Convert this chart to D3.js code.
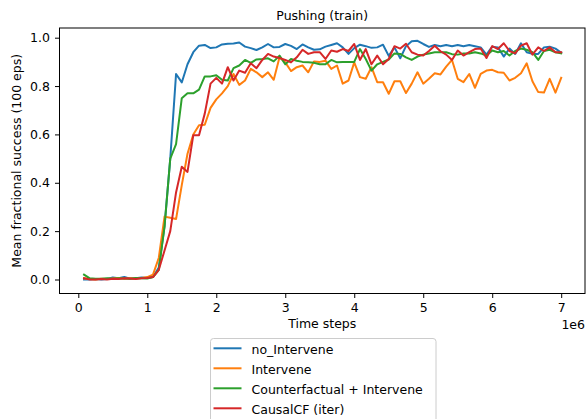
<!DOCTYPE html>
<html><head><meta charset="utf-8">
<script src="https://cdn.jsdelivr.net/npm/d3@7"></script>
<style>
body{margin:0;background:#fff}
svg{display:block}
text{font-family:"DejaVu Sans",sans-serif;fill:#000}
</style>
</head><body>
<svg id="c" width="586" height="419"></svg>
<script>
// Time steps (in units of 1e6)
const steps = [
0.083,0.167,0.25,0.333,0.417,0.5,0.583,0.667,0.75,0.833,0.917,1.0,
1.083,1.167,1.25,1.333,1.417,1.5,1.583,1.667,1.75,1.833,1.917,2.0,
2.083,2.167,2.25,2.333,2.417,2.5,2.583,2.667,2.75,2.833,2.917,3.0,
3.083,3.167,3.25,3.333,3.417,3.5,3.583,3.667,3.75,3.833,3.917,4.0,
4.083,4.167,4.25,4.333,4.417,4.5,4.583,4.667,4.75,4.833,4.917,5.0,
5.083,5.167,5.25,5.333,5.417,5.5,5.583,5.667,5.75,5.833,5.917,6.0,
6.083,6.167,6.25,6.333,6.417,6.5,6.583,6.667,6.75,6.833,6.917,7.0];

const noIntervene = [
0.0,0.0,0.002,0.0,0.002,0.008,0.005,0.01,0.003,0.005,0.008,0.006,
0.01,0.05,0.22,0.5,0.85,0.815,0.89,0.94,0.967,0.97,0.957,0.96,
0.972,0.975,0.976,0.98,0.963,0.957,0.949,0.96,0.974,0.96,0.962,0.974,
0.966,0.953,0.972,0.96,0.95,0.952,0.963,0.97,0.977,0.96,0.933,0.957,
0.971,0.965,0.958,0.96,0.971,0.925,0.96,0.915,0.965,0.985,0.987,0.974,
0.962,0.97,0.965,0.97,0.965,0.97,0.965,0.97,0.965,0.96,0.93,0.963,
0.96,0.922,0.955,0.933,0.977,0.94,0.933,0.933,0.96,0.963,0.955,0.938];

const intervene = [
0.005,0.002,0.0,0.003,0.002,0.004,0.006,0.003,0.005,0.004,0.006,0.01,
0.02,0.09,0.26,0.255,0.25,0.39,0.52,0.6,0.638,0.64,0.71,0.745,
0.77,0.8,0.85,0.805,0.823,0.871,0.857,0.837,0.857,0.826,0.919,0.898,
0.862,0.878,0.885,0.857,0.902,0.9,0.905,0.871,0.885,0.81,0.823,0.898,
0.837,0.83,0.878,0.816,0.816,0.768,0.82,0.82,0.771,0.81,0.857,0.81,
0.83,0.853,0.848,0.88,0.908,0.83,0.816,0.85,0.793,0.85,0.864,0.867,
0.857,0.855,0.823,0.834,0.853,0.894,0.82,0.775,0.773,0.83,0.773,0.834];

const counterfactualIntervene = [
0.02,0.005,0.003,0.003,0.005,0.003,0.005,0.004,0.003,0.006,0.005,0.004,
0.01,0.04,0.22,0.5,0.56,0.75,0.77,0.77,0.785,0.84,0.84,0.845,
0.826,0.823,0.874,0.885,0.908,0.896,0.91,0.912,0.915,0.902,0.926,0.89,
0.912,0.905,0.9,0.898,0.896,0.89,0.89,0.908,0.898,0.9,0.9,0.9,
0.953,0.912,0.864,0.89,0.9,0.91,0.935,0.933,0.919,0.908,0.922,0.93,
0.935,0.94,0.94,0.94,0.932,0.93,0.935,0.935,0.94,0.935,0.926,0.947,
0.94,0.945,0.926,0.945,0.955,0.95,0.94,0.908,0.945,0.95,0.94,0.935];

const causalCF = [
0.005,0.0,0.0,0.002,0.0,0.003,0.002,0.005,0.004,0.002,0.005,0.006,
0.01,0.04,0.12,0.2,0.36,0.466,0.445,0.597,0.597,0.686,0.81,0.834,
0.81,0.878,0.823,0.864,0.855,0.894,0.874,0.908,0.933,0.922,0.916,0.908,
0.898,0.919,0.95,0.933,0.94,0.94,0.912,0.947,0.942,0.953,0.945,0.974,
0.908,0.953,0.89,0.926,0.89,0.912,0.965,0.955,0.975,0.94,0.93,0.926,
0.945,0.967,0.944,0.93,0.908,0.947,0.926,0.94,0.953,0.955,0.916,0.965,
0.953,0.977,0.945,0.935,0.967,0.977,0.93,0.96,0.945,0.96,0.94,0.94];

const seriesNames = ["no_Intervene","Intervene","Counterfactual + Intervene","CausalCF (iter)"];
const seriesValues = [noIntervene, intervene, counterfactualIntervene, causalCF];
const seriesColors = ["#1f77b4","#ff7f0e","#2ca02c","#d62728"];
const xTicks = [0,1,2,3,4,5,6,7];
const yTicks = [0.0,0.2,0.4,0.6,0.8,1.0];
const titleText = "Pushing (train)";
const xLabel = "Time steps";
const yLabel = "Mean fractional success (100 eps)";
const xOffsetLabel = "1e6";

const svg = d3.select("#c");
const box = {left:59.5, right:585, top:28, bottom:293.5};
const x = d3.scaleLinear().domain([0,7]).range([78.3,561.2]);
const y = d3.scaleLinear().domain([0,1]).range([279.5,37.7]);
const fs = "12.5px";

svg.append("defs").append("clipPath").attr("id","clip")
  .append("rect").attr("x",box.left).attr("y",box.top)
  .attr("width",box.right-box.left).attr("height",box.bottom-box.top);

const line = d3.line().x((d,i)=>x(steps[i])).y(d=>y(d));
const g = svg.append("g").attr("clip-path","url(#clip)");
seriesValues.forEach((vals,si)=>{
  g.append("path").datum(vals).attr("d",line)
   .attr("fill","none").attr("stroke",seriesColors[si])
   .attr("stroke-width",2).attr("stroke-linejoin","round").attr("stroke-linecap","square");
});

// axes
const xa = svg.append("g").attr("transform",`translate(0,${box.bottom})`)
  .call(d3.axisBottom(x).tickValues(xTicks).tickFormat(d3.format("d")).tickSize(4.5).tickPadding(4.8));
const ya = svg.append("g").attr("transform",`translate(${box.left},0)`)
  .call(d3.axisLeft(y).tickValues(yTicks).tickFormat(d3.format(".1f")).tickSize(4.5).tickPadding(5));
[xa,ya].forEach(a=>{
  a.select(".domain").remove();
  a.selectAll(".tick line").attr("stroke","#000").attr("stroke-width",1);
  a.selectAll(".tick text").attr("font-size",fs).attr("font-family","DejaVu Sans").attr("fill","#000");
});

// frame
svg.append("rect").attr("x",box.left).attr("y",box.top)
  .attr("width",box.right-box.left).attr("height",box.bottom-box.top)
  .attr("fill","none").attr("stroke","#000").attr("stroke-width",1);

// texts
svg.append("text").attr("x",(box.left+box.right)/2).attr("y",20)
  .attr("text-anchor","middle").attr("font-size",fs).text(titleText);
svg.append("text").attr("x",(box.left+box.right)/2).attr("y",328.3)
  .attr("text-anchor","middle").attr("font-size",fs).text(xLabel);
svg.append("text").attr("x",box.right).attr("y",328.8)
  .attr("text-anchor","end").attr("font-size",fs).text(xOffsetLabel);
svg.append("text").attr("transform",`translate(21,${(box.top+box.bottom)/2}) rotate(-90)`)
  .attr("text-anchor","middle").attr("font-size",fs).text(yLabel);

// legend
const lg = svg.append("g");
lg.append("rect").attr("x",210.5).attr("y",338.5).attr("width",225.5).attr("height",100)
  .attr("rx",3).attr("fill","#fff").attr("fill-opacity",0.8).attr("stroke","#cccccc").attr("stroke-width",1);
seriesNames.forEach((n,i)=>{
  const cy = 348.3 + 20*i;
  lg.append("line").attr("x1",213.5).attr("x2",241.5).attr("y1",cy).attr("y2",cy)
    .attr("stroke",seriesColors[i]).attr("stroke-width",2);
  lg.append("text").attr("x",251.5).attr("y",cy+5.3).attr("font-size",fs).text(n);
});
</script>
</body></html>
